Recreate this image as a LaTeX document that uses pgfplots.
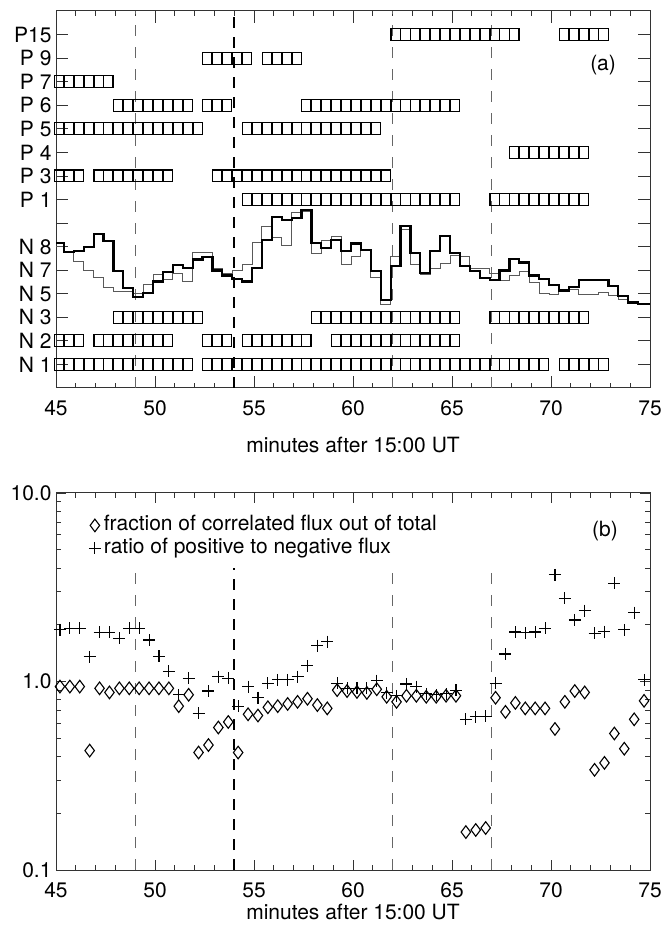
\documentclass[border=0pt]{standalone}
\usepackage{fontspec}
\setmainfont{TeX Gyre Heros}
\usepackage{pgfplots}
\pgfplotsset{compat=1.18}
\newcommand{\fs}{\fontsize{21}{24}\selectfont}
\pgfplotsset{
  myax/.style={
    scale only axis, width=594pt, height=377pt,
    xmin=45, xmax=75, xtick={45,50,...,75}, minor x tick num=4,
    tick align=inside, major tick length=10pt, minor tick length=5pt,
    axis line style={black!80, line width=1pt},
    every tick/.style={black!80, line width=0.8pt},
    ticklabel style={font=\fs},
    label style={font=\fs},
    /pgf/number format/assume math mode=true,
    xticklabel style={anchor=center, yshift=-20pt},
    yticklabel style={xshift=-1pt},
    xlabel={minutes after 15:00 UT},
    xlabel style={at={(axis description cs:0.5,0)}, anchor=center},
    clip=false,
  },
  rowmk/.style={only marks, mark=square, mark size=4.6pt, mark options={yscale=1.3, line width=1.15pt, black, fill=white}},
  vthin/.style={black!60, line width=1.2pt, dash pattern=on 11pt off 11pt, forget plot},
  vthick/.style={black, line width=1.8pt, dash pattern=on 11pt off 9pt, forget plot},
}
\begin{document}
\begin{tikzpicture}
\path (0,0) rectangle (662pt,925pt);
% ---------------- panel (a)
\begin{axis}[myax, at={(56pt,537pt)}, anchor=south west,
  ymin=0, ymax=16, ytick={1,...,15},
  yticklabels={N 1,N 2,N 3,N 5,N 7,N 8,{},P 1,P 3,P 4,P 5,P 6,P 7,P 9,P15},
  major tick length=12pt,
  xlabel style={yshift=-57pt}]
\addplot[vthin] coordinates {(49,0) (49,16)};
\addplot[vthick] coordinates {(54,0) (54,16)};
\addplot[vthin] coordinates {(62,0) (62,16)};
\addplot[vthin] coordinates {(67,0) (67,16)};
% thin line
\addplot[const plot mark left, black!65, line width=1pt] coordinates {
(45,6.01)(45.4,5.74)(45.9,5.38)(46.4,4.99)(46.9,4.67)(47.4,4.28)(47.9,4.10)(48.4,4.10)(48.9,4.01)(49.4,4.38)
(49.9,4.81)(50.4,4.60)(50.9,4.85)(51.4,4.52)(51.9,5.76)(52.4,5.76)(52.9,5.05)(53.4,4.85)(53.9,4.99)(54.4,5.23)
(54.9,6.16)(55.4,6.87)(55.9,6.37)(56.4,6.04)(56.9,7.43)(57.4,7.50)(57.9,5.70)(58.4,6.27)(58.9,6.44)(59.4,5.23)
(59.9,5.56)(60.4,5.84)(60.9,4.67)(61.4,3.53)(61.9,5.56)(62.4,6.72)(62.9,5.23)(63.4,4.81)(63.9,5.05)(64.4,5.28)
(64.9,5.62)(65.4,5.56)(65.9,5.05)(66.4,5.09)(66.9,4.85)(67.4,4.57)(67.9,4.77)(68.4,4.95)(68.9,4.48)(69.4,4.00)
(69.9,3.96)(70.4,4.17)(70.9,4.17)(71.4,3.96)(71.9,3.96)(72.4,4.06)(72.9,3.91)(73.4,3.77)(73.9,3.67)(74.4,3.53)
(75,3.53)};
% thick line
\addplot[const plot mark left, black, line width=2.2pt] coordinates {
(45,6.16)(45.4,5.76)(45.9,5.80)(46.4,5.99)(46.9,6.55)(47.4,6.23)(47.9,4.95)(48.4,4.24)(48.9,3.86)(49.4,4.03)
(49.9,4.52)(50.4,4.91)(50.9,5.23)(51.4,5.09)(51.9,5.45)(52.4,5.56)(52.9,4.99)(53.4,4.77)(53.9,4.62)(54.4,4.52)
(54.9,5.09)(55.4,6.27)(55.9,7.26)(56.4,7.12)(56.9,7.22)(57.4,7.55)(57.9,6.16)(58.4,5.94)(58.9,6.27)(59.4,5.80)
(59.9,6.13)(60.4,5.84)(60.9,4.95)(61.4,3.72)(61.9,5.19)(62.4,6.89)(62.9,5.73)(63.4,4.88)(63.9,5.80)(64.4,6.44)
(64.9,5.73)(65.4,5.19)(65.9,4.95)(66.4,4.67)(66.9,4.57)(67.4,4.99)(67.9,5.47)(68.4,5.33)(68.9,4.77)(69.4,4.62)
(69.9,4.38)(70.4,4.14)(70.9,4.28)(71.4,4.57)(71.9,4.60)(72.4,4.60)(72.9,4.34)(73.4,3.89)(73.9,3.63)(74.4,3.57)
(75,3.57)};
% P15
\addplot[rowmk] coordinates {(62.15,15)(62.65,15)(63.15,15)(63.65,15)(64.15,15)(64.65,15)(65.15,15)(65.65,15)(66.15,15)(66.65,15)(67.15,15)(67.65,15)(68.15,15)
(70.65,15)(71.15,15)(71.65,15)(72.15,15)(72.65,15)};
% P9
\addplot[rowmk] coordinates {(52.65,14)(53.15,14)(53.65,14)(54.15,14)(54.65,14)(55.65,14)(56.15,14)(56.65,14)(57.15,14)};
% P7
\addplot[rowmk] coordinates {(45.15,13)(45.65,13)(46.15,13)(46.65,13)(47.15,13)(47.65,13)};
% P6
\addplot[rowmk] coordinates {(48.15,12)(48.65,12)(49.15,12)(49.65,12)(50.15,12)(50.65,12)(51.15,12)(51.65,12)
(52.65,12)(53.15,12)(53.65,12)
(57.65,12)(58.15,12)(58.65,12)(59.15,12)(59.65,12)(60.15,12)(60.65,12)(61.15,12)(61.65,12)(62.15,12)(62.65,12)(63.15,12)(63.65,12)(64.15,12)(64.65,12)(65.15,12)};
% P5
\addplot[rowmk] coordinates {(45.15,11)(45.65,11)(46.15,11)(46.65,11)(47.15,11)(47.65,11)(48.15,11)(48.65,11)(49.15,11)(49.65,11)(50.15,11)(50.65,11)(51.15,11)(51.65,11)(52.15,11)
(54.65,11)(55.15,11)(55.65,11)(56.15,11)(56.65,11)(57.15,11)(57.65,11)(58.15,11)(58.65,11)(59.15,11)(59.65,11)(60.15,11)(60.65,11)(61.15,11)};
% P4
\addplot[rowmk] coordinates {(68.15,10)(68.65,10)(69.15,10)(69.65,10)(70.15,10)(70.65,10)(71.15,10)(71.65,10)};
% P3
\addplot[rowmk] coordinates {(45.15,9)(45.65,9)(46.15,9)
(47.15,9)(47.65,9)(48.15,9)(48.65,9)(49.15,9)(49.65,9)(50.15,9)(50.65,9)
(53.15,9)(53.65,9)(54.15,9)(54.65,9)(55.15,9)(55.65,9)(56.15,9)(56.65,9)(57.15,9)(57.65,9)(58.15,9)(58.65,9)(59.15,9)(59.65,9)(60.15,9)(60.65,9)(61.15,9)(61.65,9)};
% P1
\addplot[rowmk] coordinates {(54.65,8)(55.15,8)(55.65,8)(56.15,8)(56.65,8)(57.15,8)(57.65,8)(58.15,8)(58.65,8)(59.15,8)(59.65,8)(60.15,8)(60.65,8)(61.15,8)(61.65,8)(62.15,8)(62.65,8)(63.15,8)(63.65,8)(64.15,8)(64.65,8)(65.15,8)
(67.15,8)(67.65,8)(68.15,8)(68.65,8)(69.15,8)(69.65,8)(70.15,8)(70.65,8)(71.15,8)(71.65,8)};
% N3
\addplot[rowmk] coordinates {(48.15,3)(48.65,3)(49.15,3)(49.65,3)(50.15,3)(50.65,3)(51.15,3)(51.65,3)(52.15,3)
(58.15,3)(58.65,3)(59.15,3)(59.65,3)(60.15,3)(60.65,3)(61.15,3)(61.65,3)(62.15,3)(62.65,3)(63.15,3)(63.65,3)(64.15,3)(64.65,3)(65.15,3)
(67.15,3)(67.65,3)(68.15,3)(68.65,3)(69.15,3)(69.65,3)(70.15,3)(70.65,3)(71.15,3)(71.65,3)};
% N2
\addplot[rowmk] coordinates {(45.15,2)(45.65,2)(46.15,2)
(47.15,2)(47.65,2)(48.15,2)(48.65,2)(49.15,2)(49.65,2)(50.15,2)(50.65,2)
(52.65,2)(53.15,2)(53.65,2)
(54.65,2)(55.15,2)(55.65,2)(56.15,2)(56.65,2)(57.15,2)(57.65,2)
(59.15,2)(59.65,2)(60.15,2)(60.65,2)(61.15,2)(61.65,2)(62.15,2)(62.65,2)(63.15,2)(63.65,2)(64.15,2)(64.65,2)(65.15,2)};
% N1
\addplot[rowmk] coordinates {(45.15,1)(45.65,1)(46.15,1)(46.65,1)(47.15,1)(47.65,1)(48.15,1)(48.65,1)(49.15,1)(49.65,1)(50.15,1)(50.65,1)(51.15,1)(51.65,1)
(52.65,1)(53.15,1)(53.65,1)(54.15,1)(54.65,1)(55.15,1)(55.65,1)(56.15,1)(56.65,1)(57.15,1)(57.65,1)(58.15,1)(58.65,1)(59.15,1)(59.65,1)(60.15,1)(60.65,1)(61.15,1)(61.65,1)(62.15,1)(62.65,1)(63.15,1)(63.65,1)(64.15,1)(64.65,1)(65.15,1)(65.65,1)(66.15,1)(66.65,1)(67.15,1)(67.65,1)(68.15,1)(68.65,1)(69.15,1)(69.65,1)
(70.65,1)(71.15,1)(71.65,1)(72.15,1)(72.65,1)};
\node[font=\fs] at (axis cs:72.63,13.7) {(a)};
\end{axis}
% ---------------- panel (b)
\begin{axis}[myax, at={(56pt,55pt)}, anchor=south west,
  ymode=log, ymin=0.1, ymax=10, ytick={0.1,1,10}, yticklabels={0.1,1.0,10.0},
  xlabel style={yshift=-42pt},
  legend style={draw=none, fill=none, font=\fs, at={(axis description cs:0.05,0.945)}, anchor=north west, row sep=4pt,
    nodes={inner sep=0pt, text height=15pt, text depth=4pt},
    /tikz/every odd column/.append style={column sep=3pt}},
  legend cell align=left]
\addplot[only marks, mark=diamond, mark size=6.3pt, mark options={black, line width=1.1pt}] coordinates {
(45.2,0.94)(45.7,0.94)(46.2,0.94)(46.7,0.43)(47.2,0.92)(47.7,0.875)(48.2,0.92)(48.7,0.92)(49.2,0.92)(49.7,0.92)
(50.2,0.92)(50.7,0.92)(51.2,0.74)(51.7,0.85)(52.2,0.42)(52.7,0.46)(53.2,0.57)(53.7,0.61)(54.2,0.42)(54.7,0.67)
(55.2,0.66)(55.7,0.73)(56.2,0.74)(56.7,0.76)(57.2,0.78)(57.7,0.81)(58.2,0.75)(58.7,0.72)(59.2,0.90)(59.7,0.89)
(60.2,0.88)(60.7,0.87)(61.2,0.91)(61.7,0.83)(62.2,0.78)(62.7,0.84)(63.2,0.84)(63.7,0.83)(64.2,0.83)(64.7,0.84)
(65.2,0.84)(65.7,0.159)(66.2,0.163)(66.7,0.167)(67.2,0.82)(67.7,0.69)(68.2,0.77)(68.7,0.72)(69.2,0.72)(69.7,0.72)
(70.2,0.56)(70.7,0.78)(71.2,0.89)(71.7,0.875)(72.2,0.34)(72.7,0.37)(73.2,0.53)(73.7,0.44)(74.2,0.63)(74.7,0.79)};
\addlegendentry{fraction of correlated flux out of total}
\addplot[only marks, mark=+, mark size=6pt, mark options={black, line width=1.1pt}] coordinates {
(45.2,1.88)(45.7,1.92)(46.2,1.92)(46.7,1.35)(47.2,1.82)(47.7,1.82)(48.2,1.70)(48.7,1.92)(49.2,1.92)(49.7,1.66)
(50.2,1.36)(50.7,1.13)(51.2,0.85)(51.7,1.04)(52.2,0.68)(52.7,0.89)(53.2,1.06)(53.7,1.04)(54.2,0.74)(54.7,0.94)
(55.2,0.82)(55.7,0.98)(56.2,1.02)(56.7,1.02)(57.2,1.06)(57.7,1.21)(58.2,1.55)(58.7,1.63)(59.2,0.98)(59.7,0.92)
(60.2,0.92)(60.7,0.92)(61.2,1.01)(61.7,0.87)(62.2,0.84)(62.7,0.97)(63.2,0.94)(63.7,0.86)(64.2,0.85)(64.7,0.86)
(65.2,0.90)(65.7,0.63)(66.2,0.65)(66.7,0.655)(67.2,0.98)(67.7,1.40)(68.2,1.83)(68.7,1.81)(69.2,1.83)(69.7,1.92)
(70.2,3.68)(70.7,2.77)(71.2,2.12)(71.7,2.38)(72.2,1.80)(72.7,1.84)(73.2,3.32)(73.7,1.88)(74.2,2.32)(74.7,1.02)};
\addlegendentry{ratio of positive to negative flux}
\addplot[vthin] coordinates {(49,0.1) (49,4)};
\addplot[vthick] coordinates {(54,0.1) (54,4)};
\addplot[vthin] coordinates {(62,0.1) (62,4)};
\addplot[vthin] coordinates {(67,0.1) (67,4)};
\node[font=\fs] at (axis cs:72.73,6.3) {(b)};
\end{axis}
\end{tikzpicture}
\end{document}
